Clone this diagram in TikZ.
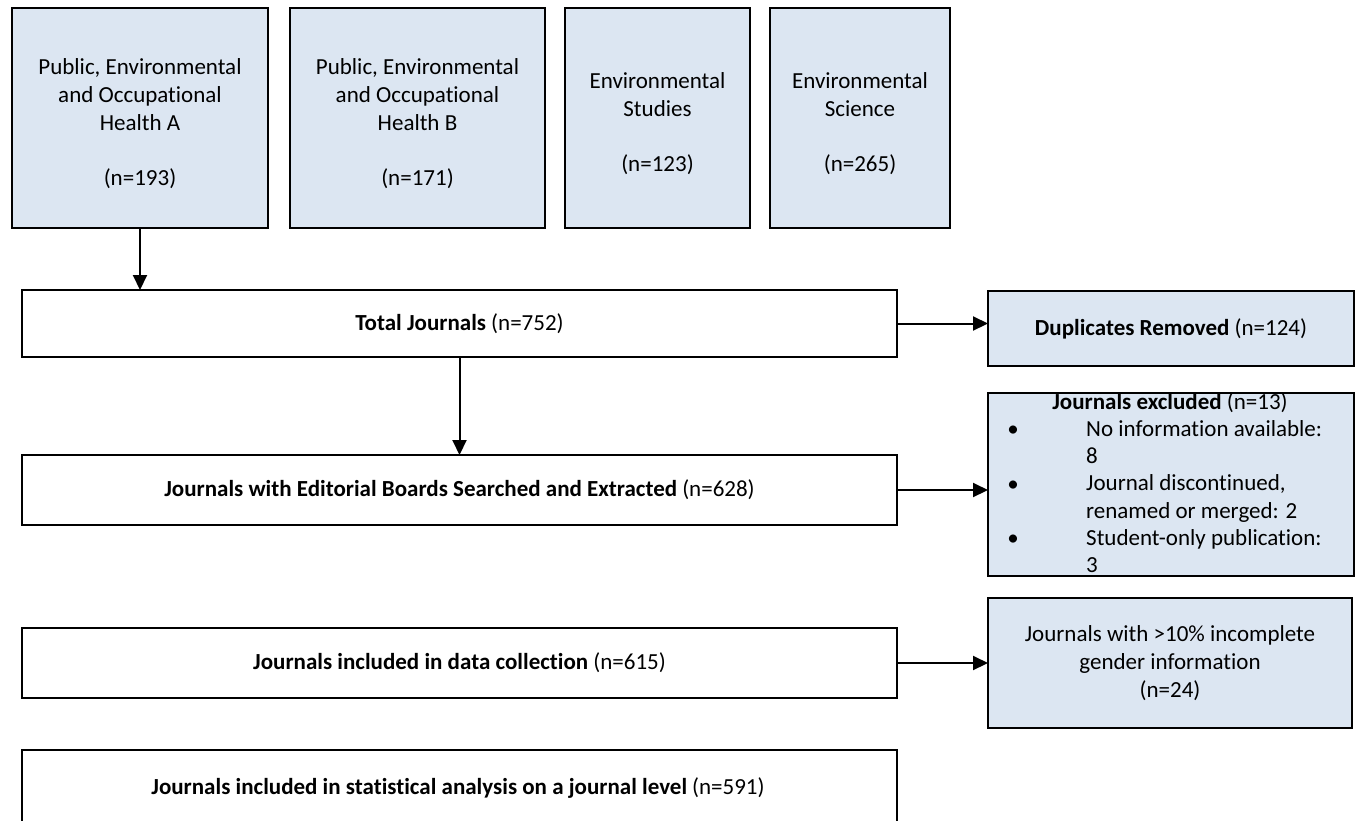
\documentclass[tikz,border=0pt]{standalone}
\usepackage{fontspec}
\setmainfont{Carlito}[Ligatures=NoCommon]
\usetikzlibrary{arrows.meta}
\definecolor{boxblue}{HTML}{DCE6F2}
\tikzset{
 box/.style={draw=black, line width=2.2pt, inner sep=0pt, outer sep=0pt, anchor=north west, align=center, font=\fontsize{23}{27.7}\selectfont},
 bluebox/.style={box, fill=boxblue},
 whitebox/.style={box, fill=white},
 txt/.style={inner sep=0pt, font=\fontsize{23}{27.3}\selectfont},
 ctxt/.style={inner sep=0pt, align=center, font=\fontsize{23}{27.7}\selectfont},
 arr/.style={line width=2pt, -{Triangle[length=15pt,width=14pt]}},
}
\begin{document}
\begin{tikzpicture}[x=1pt,y=-1pt]
\useasboundingbox (0,0) rectangle (1356,820);
% top category boxes
\node[bluebox, minimum width=256pt, minimum height=220pt] (a) at (12,8) {};
\node[ctxt] (atxt) at ([yshift=-6pt]a.center)
  {Public, Environmental\\and Occupational\\Health A\\[27.7pt](n=193)};
\node[bluebox, minimum width=255pt, minimum height=220pt] (b) at (290,8) {};
\node[ctxt] (btxt) at ([yshift=-6pt]b.center)
  {Public, Environmental\\and Occupational\\Health B\\[27.7pt](n=171)};
\node[bluebox, minimum width=185pt, minimum height=220pt] (c) at (565,8) {};
\node[ctxt] (ctxt) at ([yshift=-6pt]c.center)
  {Environmental\\Studies\\[27.7pt](n=123)};
\node[bluebox, minimum width=180pt, minimum height=220pt] (d) at (770,8) {};
\node[ctxt] (dtxt) at ([yshift=-6pt]d.center)
  {Environmental\\Science\\[27.7pt](n=265)};
% main column
\node[whitebox, minimum width=875pt, minimum height=67pt] (tot) at (22,290)
  {\textbf{Total Journals} (n=752)};
\node[whitebox, minimum width=875pt, minimum height=70pt] (ed) at (22,455)
  {\textbf{Journals with Editorial Boards Searched and Extracted} (n=628)};
\node[whitebox, minimum width=875pt, minimum height=70pt] (dc) at (22,628)
  {\textbf{Journals included in data collection} (n=615)};
\node[whitebox, minimum width=875pt, minimum height=100pt] (sa) at (22,750) {};
\node[txt] (satxt) at (458,788)
  {\textbf{Journals included in statistical analysis on a journal level} (n=591)};
% side boxes
\node[bluebox, minimum width=366pt, minimum height=75pt] (dup) at (988,291)
  {\textbf{Duplicates Removed} (n=124)};
\node[bluebox, minimum width=366pt, minimum height=183pt] (ex) at (988,393) {};
\node[txt] (extitle) at (1170,403) {\textbf{Journals excluded} (n=13)};
\node[txt, align=left, anchor=north west] (exlist) at (1086,420)
  {No information available:\\8\\Journal discontinued,\\renamed or merged: 2\\Student-only publication:\\3};
\node[txt] (b1) at (1013,431) {\textbullet};
\node[txt] (b2) at (1013,486) {\textbullet};
\node[txt] (b3) at (1013,540) {\textbullet};
\node[bluebox, minimum width=364pt, minimum height=130pt] (gen) at (988,598)
  {Journals with >10\% incomplete\\gender information\\(n=24)};
% connectors
\draw[arr] (a.south) -- (a.south |- tot.north);
\draw[arr] (tot.south) -- (ed.north);
\draw[arr] (tot.east) -- (tot.east -| dup.west);
\draw[arr] (ed.east) -- (ed.east -| ex.west);
\draw[arr] (dc.east) -- (dc.east -| gen.west);
\end{tikzpicture}
\end{document}
